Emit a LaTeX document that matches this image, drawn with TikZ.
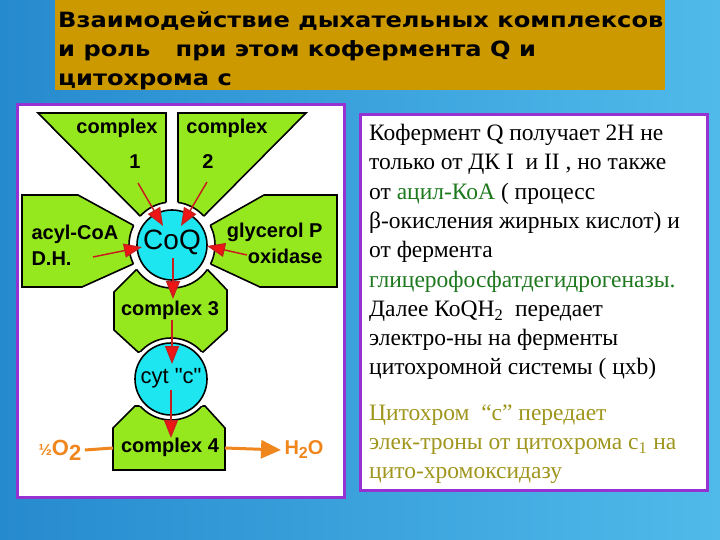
\documentclass[tikz,border=0pt]{standalone}
\usepackage{fontspec}
\setmainfont{Liberation Serif}
\newfontfamily\titlefont{DejaVu Sans}[FakeStretch=1.15]
\newfontfamily\labfont{Liberation Sans}
\usetikzlibrary{arrows.meta}
\definecolor{bgblue}{RGB}{38,138,206}
\definecolor{bglight}{RGB}{80,186,234}
\definecolor{gold}{RGB}{204,153,0}
\definecolor{panelpurple}{RGB}{150,50,210}
\definecolor{lime}{RGB}{150,232,30}
\definecolor{cyanball}{RGB}{30,230,240}
\definecolor{arrowred}{RGB}{200,30,30}
\definecolor{headred}{RGB}{240,20,20}
\definecolor{orangeline}{RGB}{240,135,30}
\definecolor{textgreen}{RGB}{30,120,30}
\definecolor{textolive}{RGB}{160,150,30}
% green parts of the scheme
\newcommand\shpcone{(38,113)--(166,113)--(166,228)--(152,228)--cycle}
\newcommand\shpctwo{(306,113)--(178,113)--(178,228)--(192,228)--cycle}
\newcommand\shpacyl{(22,195)--(78,195)--(142,230)--(142,260)--(82,287)--(22,287)--cycle}
\newcommand\shpglyc{(337,195)--(264,195)--(202,230)--(202,260)--(260,287)--(337,287)--cycle}
\newcommand\shpcthree{(114,292)--(138,268)--(206,268)--(227,290)--(227,330)--(203,352)--(138,352)--(114,330)--cycle}
\newcommand\shpcfour{(113,470)--(113,428)--(135,406)--(205,406)--(225,428)--(225,470)--cycle}
\tikzset{
greenpart/.style={fill=lime, draw=black, line width=1.6pt},
ball/.style={circle, fill=cyanball, draw=black, line width=1.6pt, inner sep=0pt},
redarrow/.style={draw=arrowred, line width=1.5pt, -{Triangle[length=18pt,width=14pt,fill=headred]}},
lab/.style={font=\labfont\bfseries\fontsize{20}{26}\selectfont},
panel/.style={fill=white, draw=panelpurple, line width=3pt},
}
\begin{document}
\begin{tikzpicture}[x=1pt,y=-1pt]
\useasboundingbox (0,0) rectangle (720,540);
\shade[left color=bgblue, right color=bglight] (0,0) rectangle (720,540);
\fill[gold] (55,0) rectangle (665,90);
\node[anchor=north west, align=left, inner sep=0pt,
  font=\titlefont\bfseries\fontsize{21}{29}\selectfont] (title) at (58,11)
  {Взаимодействие дыхательных комплексов\\
   и роль \ \ при этом кофермента Q и\\
   цитохрома с};
\draw[panel] (17,105) rectangle (344,497);
\draw[panel] (360,115) rectangle (707,490);
%
\foreach \shp in {\shpcone,\shpctwo,\shpacyl,\shpglyc,\shpcthree,\shpcfour}
  \filldraw[greenpart] \shp;
\fill[white] (172,245) circle[radius=43];
\fill[white] (171,379) circle[radius=41];
\begin{scope}
\clip \shpcone \shpctwo \shpacyl \shpglyc \shpcthree \shpcfour;
\draw[line width=1.6pt] (172,245) circle[radius=43];
\draw[line width=1.6pt] (171,379) circle[radius=41];
\end{scope}
\node[ball, minimum size=70pt] (coq) at (172,245) {};
\node[ball, minimum size=72pt] (cyt) at (171,379) {};
\node[font=\labfont\fontsize{28}{30}\selectfont] (coqlab) at (172,242) {CoQ};
\node[font=\labfont\fontsize{22}{24}\selectfont] (cytlab) at (171,378) {cyt "c"};
%
\node[lab] (cone) at (117,128) {complex};
\node[lab] (onelab) at (135,162) {1};
\node[lab] (ctwo) at (227,128) {complex};
\node[lab] (twolab) at (208,162) {2};
\node[lab, align=left, anchor=west] (acyl) at (28,245) {acyl-CoA\\D.H.};
\node[lab, align=right, anchor=east] (glyc) at (326,243) {glycerol P\\oxidase};
\node[lab] (cthree) at (170,310) {complex 3};
\node[lab] (cfour) at (170,447) {complex 4};
\node[lab, text=orangeline] (oxy) at (60,450) {\fontsize{16}{16}\selectfont ½\fontsize{22}{22}\selectfont O\raisebox{-5pt}{2}};
\node[lab, text=orangeline] (water) at (304,450) {H\raisebox{-4pt}{\fontsize{16}{16}\selectfont 2}O};
%
\coordinate (s1) at (138,183); \coordinate (t1) at (163,226);
\coordinate (s2) at (207,182); \coordinate (t2) at (181,226);
\coordinate (s3) at (93,257);  \coordinate (t3) at (142,247);
\coordinate (s4) at (247,255); \coordinate (t4) at (207,246);
\coordinate (s5) at (173,258); \coordinate (t5) at (173,299);
\coordinate (s6) at (172,320); \coordinate (t6) at (172,364);
\coordinate (s7) at (171,390); \coordinate (t7) at (171,438);
\foreach \i in {1,...,7}
  \draw[redarrow] (s\i) -- (t\i);
\coordinate (c4w) at (113,448);
\coordinate (c4e) at (225,448);
\draw[orangeline, line width=3pt] (oxy.east) -- (c4w);
\draw[orangeline, line width=3pt, -{Triangle[length=20pt,width=18pt]}] (c4e) -- (water.west);
%
\node[anchor=north west, align=left, inner sep=0pt,
  font=\fontsize{23.5}{29.3}\selectfont] (notes) at (369,124)
  {Кофермент Q получает 2Н не\\
   только от ДК I \ и II , но также\\
   от \textcolor{textgreen}{ацил-КоА} ( процесс\\
   β-окисления жирных кислот) и\\
   от фермента\\
   \textcolor{textgreen}{глицерофосфатдегидрогеназы.}\\
   Далее КоQН\textsubscript{2} \ передает\\
   электро-ны на ферменты\\
   цитохромной системы ( цхb)\\[16pt]
   \textcolor{textolive}{Цитохром \ “с” передает}\\
   \textcolor{textolive}{элек-троны от цитохрома с\textsubscript{1} на}\\
   \textcolor{textolive}{цито-хромоксидазу}};
\end{tikzpicture}
\end{document}
